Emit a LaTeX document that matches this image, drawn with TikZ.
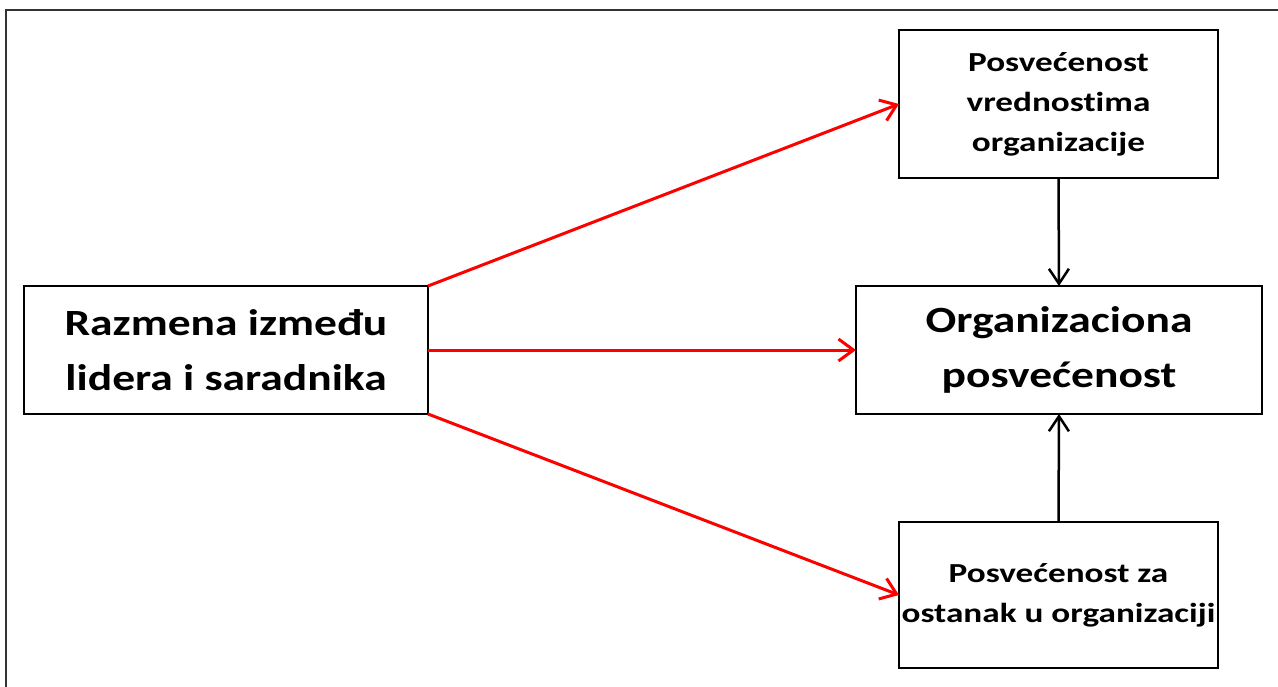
\documentclass[tikz,border=0pt]{standalone}
\usepackage{fontspec}
\setmainfont{Carlito}
\newfontfamily\bigf[FakeStretch=1.23,Ligatures=NoCommon]{Carlito}
\newfontfamily\smallf[FakeStretch=1.28,Ligatures=NoCommon]{Carlito}
\usetikzlibrary{arrows.meta}
\tikzset{
  box/.style={draw=black, line width=2.8pt, fill=white, align=center, inner sep=0pt, outer sep=0pt},
  bigtext/.style={font=\bigf\bfseries\fontsize{37}{55}\selectfont},
  smalltext/.style={font=\smallf\bfseries\fontsize{27.5}{40}\selectfont},
  redarrow/.style={draw=red, line width=3pt, -{Straight Barb[length=15pt,width=22pt]}},
  blackarrow/.style={draw=black, line width=2.5pt, -{Straight Barb[length=15pt,width=20pt]}},
  frame/.style={draw=black!80, line width=2pt}
}
\begin{document}
\begin{tikzpicture}[x=1pt,y=-1pt]
\useasboundingbox (0,0) rectangle (1278,686);
\coordinate (fbl) at (6,700);
\coordinate (ftl) at (6,10);
\coordinate (ftr) at (1290,10);
\draw[frame] (fbl) -- (ftl) -- (ftr);
\node[box, bigtext, minimum width=404pt, minimum height=128pt] (lmx) at (226,350) {Razmena između\\lidera i saradnika};
\node[box, smalltext, minimum width=319pt, minimum height=148pt] (top) at (1058.5,104) {Posvećenost\\vrednostima\\organizacije};
\node[box, bigtext, minimum width=406pt, minimum height=128pt] (mid) at (1059,350) {Organizaciona\\posvećenost};
\node[box, smalltext, minimum width=319pt, minimum height=146pt] (bot) at (1058.5,595) {Posvećenost za\\ostanak u organizaciji};
\draw[redarrow] (lmx.north east) -- (top.west);
\draw[redarrow] (lmx.east) -- (mid.west);
\draw[redarrow] (lmx.south east) -- (bot.west);
\draw[blackarrow] (top.south) -- (mid.north);
\draw[blackarrow] (bot.north) -- (mid.south);
\end{tikzpicture}
\end{document}
